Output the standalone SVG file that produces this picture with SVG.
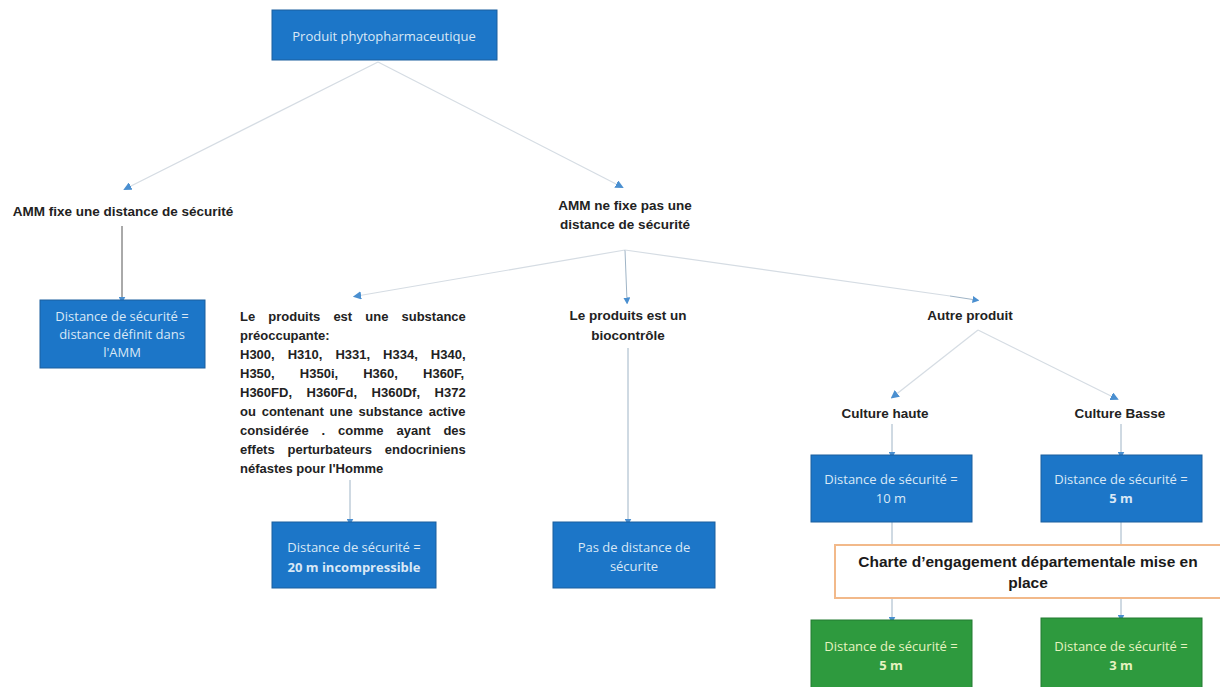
<svg xmlns="http://www.w3.org/2000/svg" width="1220" height="687" viewBox="0 0 1220 687">
<defs>
<style>
.blue{fill:#1c76c8;stroke:#1a5f9e;stroke-width:1}
.green{fill:#2e9a3e;stroke:#237a30;stroke-width:1}
.bt{font-family:"Open Sans","Liberation Sans",sans-serif;font-size:13px;fill:#d9e8f6;text-anchor:middle}
.gt{font-family:"Open Sans","Liberation Sans",sans-serif;font-size:13px;fill:#e6f3c0;text-anchor:middle}
.b{font-weight:bold}
.lbl{font-family:"Liberation Sans",sans-serif;font-size:13.5px;font-weight:bold;fill:#222;text-anchor:middle}
.big{font-size:15.5px;fill:#1a1a1a}
.sub{font-family:"Liberation Sans",sans-serif;font-size:13px;font-weight:bold;fill:#222}
.faint{stroke:#d5dce3;stroke-width:1.2;fill:none}
.con{stroke:#9fb4c6;stroke-width:1;fill:none}
.dark{stroke:#555;stroke-width:1;fill:none}
</style>
<marker id="ah" viewBox="0 0 10 10" refX="5" refY="5" markerWidth="7" markerHeight="7" orient="auto-start-reverse">
<path d="M0,0 L10,5 L0,10 z" fill="#4a8fd0"/>
</marker>
</defs>
<rect width="1220" height="687" fill="#ffffff"/>
<g id="connectors">
<line class="faint" x1="378" y1="62" x2="127" y2="188" marker-end="url(#ah)"/>
<line class="faint" x1="378" y1="62" x2="620" y2="186" marker-end="url(#ah)"/>
<line class="dark" x1="122" y1="226" x2="122" y2="300" marker-end="url(#ah)"/>
<line class="faint" x1="625" y1="250" x2="357" y2="296" marker-end="url(#ah)"/>
<line class="con" x1="625" y1="250" x2="627" y2="301" marker-end="url(#ah)"/>
<line class="faint" x1="625" y1="250" x2="950" y2="296"/>
<line class="con" x1="950" y1="296" x2="976" y2="300" marker-end="url(#ah)"/>
<line class="faint" x1="978" y1="330" x2="894" y2="396" marker-end="url(#ah)"/>
<line class="faint" x1="978" y1="330" x2="1115" y2="398" marker-end="url(#ah)"/>
<line class="con" x1="350" y1="480" x2="350" y2="522" marker-end="url(#ah)"/>
<line class="con" x1="628" y1="348" x2="628" y2="522" marker-end="url(#ah)"/>
<line class="con" x1="892" y1="424" x2="892" y2="455" marker-end="url(#ah)"/>
<line class="con" x1="1121" y1="424" x2="1121" y2="455" marker-end="url(#ah)"/>
<line class="con" x1="892" y1="522" x2="892" y2="545"/>
<line class="con" x1="1121" y1="522" x2="1121" y2="545"/>
<line class="con" x1="892" y1="598" x2="892" y2="620" marker-end="url(#ah)"/>
<line class="con" x1="1121" y1="598" x2="1121" y2="618" marker-end="url(#ah)"/>
</g>
<g id="n-produit">
<rect class="blue" x="272" y="10" width="225" height="50"/>
<text class="bt" x="384" y="41">Produit phytopharmaceutique</text>
</g>
<g id="n-amm-fixe">
<text class="lbl" x="123" y="216">AMM fixe une distance de sécurité</text>
</g>
<g id="n-dist-amm">
<rect class="blue" x="40" y="300" width="165" height="68"/>
<text class="bt" x="122" y="321">Distance de sécurité =</text>
<text class="bt" x="122" y="339">distance définit dans</text>
<text class="bt" x="122" y="357">l'AMM</text>
</g>
<g id="n-amm-nefixe">
<text class="lbl" x="625" y="210">AMM ne fixe pas une</text>
<text class="lbl" x="625" y="229">distance de sécurité</text>
</g>
<g id="n-substance">
<text class="sub" x="240" y="321" style="word-spacing:9.5px">Le produits est une substance</text>
<text class="sub" x="240" y="340">préoccupante:</text>
<text class="sub" x="240" y="359" style="word-spacing:9.4px">H300, H310, H331, H334, H340,</text>
<text class="sub" x="240" y="378" style="word-spacing:21.5px">H350, H350i, H360, H360F,</text>
<text class="sub" x="240" y="397" style="word-spacing:10.9px">H360FD, H360Fd, H360Df, H372</text>
<text class="sub" x="240" y="416" style="word-spacing:2.2px">ou contenant une substance active</text>
<text class="sub" x="240" y="435" style="word-spacing:9.3px">considérée . comme ayant des</text>
<text class="sub" x="240" y="454" style="word-spacing:9.2px">effets perturbateurs endocriniens</text>
<text class="sub" x="240" y="473">néfastes pour l'Homme</text>
</g>
<g id="n-20m">
<rect class="blue" x="272" y="522" width="164" height="66"/>
<text class="bt" x="354" y="552">Distance de sécurité =</text>
<text class="bt b" x="354" y="572">20 m incompressible</text>
</g>
<g id="n-biocontrole">
<text class="lbl" x="628" y="320">Le produits est un</text>
<text class="lbl" x="628" y="340">biocontrôle</text>
</g>
<g id="n-pas">
<rect class="blue" x="553" y="522" width="162" height="66"/>
<text class="bt" x="634" y="552">Pas de distance de</text>
<text class="bt" x="634" y="571">sécurite</text>
</g>
<g id="n-autre">
<text class="lbl" x="970" y="320">Autre produit</text>
</g>
<g id="n-haute">
<text class="lbl" x="885" y="418">Culture haute</text>
</g>
<g id="n-basse">
<text class="lbl" x="1120" y="418">Culture Basse</text>
</g>
<g id="n-10m">
<rect class="blue" x="811" y="455" width="161" height="67"/>
<text class="bt" x="891" y="484">Distance de sécurité =</text>
<text class="bt" x="891" y="503">10 m</text>
</g>
<g id="n-5m">
<rect class="blue" x="1041" y="455" width="161" height="67"/>
<text class="bt" x="1121" y="484">Distance de sécurité =</text>
<text class="bt b" x="1121" y="503">5 m</text>
</g>
<g id="n-charte">
<rect x="835" y="545" width="390" height="53" fill="#ffffff" stroke="#f2b98a" stroke-width="2"/>
<text class="lbl big" x="1028" y="567">Charte d’engagement départementale mise en</text>
<text class="lbl big" x="1028" y="588">place</text>
</g>
<g id="n-g5m">
<rect class="green" x="811" y="620" width="161" height="70"/>
<text class="gt" x="891" y="651">Distance de sécurité =</text>
<text class="gt b" x="891" y="670">5 m</text>
</g>
<g id="n-g3m">
<rect class="green" x="1041" y="618" width="161" height="72"/>
<text class="gt" x="1121" y="651">Distance de sécurité =</text>
<text class="gt b" x="1121" y="670">3 m</text>
</g>
</svg>
